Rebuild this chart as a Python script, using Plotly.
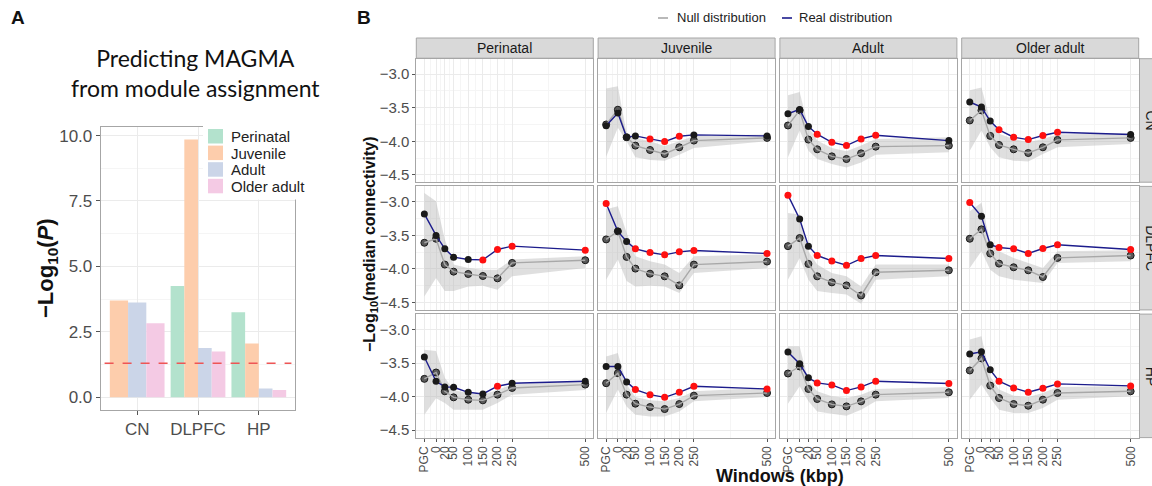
import plotly.graph_objects as go

W, H = 1152, 486

# ---------------- Panel A data ----------------
regions = ["CN", "DLPFC", "HP"]
stages = ["Perinatal", "Juvenile", "Adult", "Older adult"]
stage_colors = ["#b3e2cd", "#fdcdac", "#cbd5e8", "#f4cae4"]
magma_perinatal = [None, 4.25, 3.25]
magma_juvenile = [3.70, 9.85, 2.05]
magma_adult = [3.62, 1.88, 0.33]
magma_older = [2.83, 1.75, 0.27]
sig_line = 1.301  # -log10(0.05)
a_yticks = [0.0, 2.5, 5.0, 7.5, 10.0]

# ---------------- Panel B data ----------------
window_labels = ["PGC", "0", "20", "50", "100", "150", "200", "250", "500"]
window_kbp = [-50, -10, 20, 50, 100, 150, 200, 250, 500]
facet_rows = ["CN", "DLPFC", "HP"]
facet_cols = ["Perinatal", "Juvenile", "Adult", "Older adult"]
b_yticks = [-3.0, -3.5, -4.0, -4.5]
dist_names = ["Null distribution", "Real distribution"]

cn_juv_real = [-3.77, -3.58, -3.94, -3.92, -3.965, -4.005, -3.925, -3.905, -3.92]
cn_juv_null = [-3.75, -3.53, -3.94, -4.065, -4.13, -4.19, -4.09, -3.99, -3.95]
cn_juv_hi = [-3.215, -3.18, -3.88, -3.95, -4.0, -4.07, -4.0, -3.92, -3.9]
cn_juv_lo = [-4.23, -3.8, -4.0, -4.24, -4.28, -4.29, -4.2, -4.1, -4.0]
cn_juv_sig = [0, 0, 0, 0, 1, 1, 1, 0, 0]

cn_adu_real = [-3.59, -3.525, -3.78, -3.895, -4.015, -4.065, -3.965, -3.91, -3.99]
cn_adu_null = [-3.765, -3.54, -3.975, -4.12, -4.225, -4.265, -4.18, -4.08, -4.065]
cn_adu_hi = [-3.315, -3.265, -3.79, -3.99, -4.1, -4.15, -4.065, -3.965, -3.94]
cn_adu_lo = [-4.24, -3.84, -4.14, -4.265, -4.34, -4.39, -4.315, -4.2, -4.165]
cn_adu_sig = [0, 0, 0, 1, 1, 1, 1, 1, 0]

cn_old_real = [-3.415, -3.49, -3.70, -3.83, -3.94, -3.975, -3.915, -3.865, -3.90]
cn_old_null = [-3.69, -3.54, -3.92, -4.055, -4.12, -4.175, -4.09, -3.98, -3.95]
cn_old_hi = [-3.24, -3.2, -3.69, -3.89, -3.965, -4.015, -3.965, -3.9, -3.88]
cn_old_lo = [-4.14, -3.84, -4.09, -4.24, -4.29, -4.3, -4.19, -4.09, -4.04]
cn_old_sig = [0, 0, 0, 1, 1, 1, 1, 1, 0]

dl_per_real = [-3.18, -3.50, -3.70, -3.825, -3.86, -3.865, -3.71, -3.66, -3.72]
dl_per_null = [-3.61, -3.55, -3.935, -4.04, -4.075, -4.105, -4.14, -3.91, -3.87]
dl_per_hi = [-2.87, -2.99, -3.56, -3.935, -3.985, -4.01, -4.01, -3.86, -3.81]
dl_per_lo = [-4.41, -4.135, -4.33, -4.33, -4.26, -4.25, -4.31, -4.11, -3.985]
dl_per_sig = [0, 0, 0, 0, 0, 1, 1, 1, 1]

dl_juv_real = [-3.025, -3.44, -3.59, -3.70, -3.755, -3.79, -3.745, -3.725, -3.77]
dl_juv_null = [-3.56, -3.44, -3.82, -3.995, -4.07, -4.11, -4.245, -3.935, -3.89]
dl_juv_hi = [-3.11, -3.065, -3.46, -3.81, -3.885, -3.935, -4.06, -3.81, -3.785]
dl_juv_lo = [-4.16, -3.86, -4.18, -4.26, -4.25, -4.26, -4.36, -4.06, -3.985]
dl_juv_sig = [1, 0, 0, 1, 1, 1, 1, 1, 1]

dl_adu_real = [-2.90, -3.255, -3.66, -3.80, -3.88, -3.945, -3.845, -3.80, -3.845]
dl_adu_null = [-3.66, -3.54, -3.925, -4.11, -4.2, -4.245, -4.395, -4.05, -4.02]
dl_adu_hi = [-3.165, -3.19, -3.74, -3.935, -4.06, -4.11, -4.26, -3.935, -3.935]
dl_adu_lo = [-4.16, -3.835, -4.16, -4.33, -4.36, -4.38, -4.52, -4.16, -4.11]
dl_adu_sig = [1, 0, 0, 1, 1, 1, 1, 1, 1]

dl_old_real = [-3.01, -3.215, -3.64, -3.68, -3.70, -3.77, -3.695, -3.64, -3.71]
dl_old_null = [-3.55, -3.41, -3.77, -3.92, -3.975, -4.02, -4.12, -3.835, -3.80]
dl_old_hi = [-3.14, -3.015, -3.61, -3.735, -3.835, -3.91, -3.985, -3.735, -3.72]
dl_old_lo = [-3.985, -3.735, -4.01, -4.11, -4.16, -4.18, -4.21, -3.91, -3.885]
dl_old_sig = [1, 0, 0, 1, 1, 1, 1, 1, 1]

hp_per_real = [-3.41, -3.77, -3.855, -3.86, -3.935, -3.96, -3.845, -3.80, -3.77]
hp_per_null = [-3.735, -3.64, -3.92, -4.01, -4.045, -4.055, -3.97, -3.87, -3.82]
hp_per_hi = [-3.30, -3.32, -3.72, -3.90, -3.95, -3.97, -3.90, -3.82, -3.77]
hp_per_lo = [-4.27, -4.025, -4.095, -4.195, -4.195, -4.195, -4.095, -3.97, -3.9]
hp_per_sig = [0, 0, 0, 0, 0, 0, 1, 0, 0]

hp_juv_real = [-3.55, -3.55, -3.78, -3.895, -3.97, -4.01, -3.935, -3.845, -3.885]
hp_juv_null = [-3.80, -3.65, -3.97, -4.105, -4.155, -4.185, -4.11, -3.985, -3.945]
hp_juv_hi = [-3.40, -3.35, -3.82, -4.005, -4.055, -4.07, -4.02, -3.92, -3.87]
hp_juv_lo = [-4.24, -3.895, -4.145, -4.27, -4.295, -4.295, -4.22, -4.07, -4.005]
hp_juv_sig = [0, 0, 0, 1, 1, 1, 1, 1, 1]

hp_adu_real = [-3.335, -3.51, -3.72, -3.795, -3.825, -3.91, -3.855, -3.77, -3.805]
hp_adu_null = [-3.655, -3.55, -3.885, -4.035, -4.115, -4.145, -4.07, -3.97, -3.935]
hp_adu_hi = [-3.25, -3.25, -3.77, -3.92, -3.995, -4.02, -3.97, -3.885, -3.855]
hp_adu_lo = [-4.105, -3.845, -4.07, -4.22, -4.255, -4.285, -4.195, -4.07, -4.02]
hp_adu_sig = [0, 0, 0, 1, 1, 1, 1, 1, 1]

hp_old_real = [-3.365, -3.33, -3.60, -3.77, -3.87, -3.935, -3.875, -3.81, -3.84]
hp_old_null = [-3.61, -3.43, -3.835, -4.02, -4.11, -4.135, -4.045, -3.945, -3.92]
hp_old_hi = [-3.15, -3.10, -3.70, -3.895, -3.985, -4.005, -3.945, -3.855, -3.845]
hp_old_lo = [-4.045, -3.82, -4.02, -4.195, -4.245, -4.245, -4.17, -4.045, -3.995]
hp_old_sig = [0, 0, 0, 1, 1, 1, 1, 1, 1]

panels = {
    (0, 1): (cn_juv_real, cn_juv_null, cn_juv_hi, cn_juv_lo, cn_juv_sig),
    (0, 2): (cn_adu_real, cn_adu_null, cn_adu_hi, cn_adu_lo, cn_adu_sig),
    (0, 3): (cn_old_real, cn_old_null, cn_old_hi, cn_old_lo, cn_old_sig),
    (1, 0): (dl_per_real, dl_per_null, dl_per_hi, dl_per_lo, dl_per_sig),
    (1, 1): (dl_juv_real, dl_juv_null, dl_juv_hi, dl_juv_lo, dl_juv_sig),
    (1, 2): (dl_adu_real, dl_adu_null, dl_adu_hi, dl_adu_lo, dl_adu_sig),
    (1, 3): (dl_old_real, dl_old_null, dl_old_hi, dl_old_lo, dl_old_sig),
    (2, 0): (hp_per_real, hp_per_null, hp_per_hi, hp_per_lo, hp_per_sig),
    (2, 1): (hp_juv_real, hp_juv_null, hp_juv_hi, hp_juv_lo, hp_juv_sig),
    (2, 2): (hp_adu_real, hp_adu_null, hp_adu_hi, hp_adu_lo, hp_adu_sig),
    (2, 3): (hp_old_real, hp_old_null, hp_old_hi, hp_old_lo, hp_old_sig),
}

# ---------------- styles ----------------
FONT = "Liberation Sans, Arial, sans-serif"
TICKC = "#4d4d4d"
GRID = "#ebebeb"
MINOR = "#f5f5f5"
BORDER = "#a6a6a6"
STRIP = "#d9d9d9"
NAVY = "#1c1c8c"
NULLC = "#a8a8a8"
RIBBON = "rgba(185,185,185,0.45)"

def px_x(p):
    return p / W

def px_y(p):
    return 1 - p / H

fig = go.Figure()
layout = {}
shapes = []
annotations = []

# ---------------- Panel A ----------------
series = [magma_perinatal, magma_juvenile, magma_adult, magma_older]
for s_idx, (name, vals, col) in enumerate(zip(stages, series, stage_colors)):
    xs, ys, ws = [], [], []
    for r_idx in range(len(regions)):
        if vals[r_idx] is None:
            continue
        present = [k for k in range(len(series)) if series[k][r_idx] is not None]
        n = len(present)
        w = 0.9 / n
        k = present.index(s_idx)
        xs.append(r_idx + 1 - 0.45 + w * (k + 0.5))
        ys.append(vals[r_idx])
        ws.append(w)
    fig.add_trace(go.Bar(x=xs, y=ys, width=ws, name=name, marker=dict(color=col, line=dict(width=0)),
                         xaxis="x", yaxis="y", showlegend=False))

a_l, a_r, a_t, a_b = 100.7, 295.3, 126.7, 410.0
layout["xaxis"] = dict(domain=[px_x(a_l), px_x(a_r)], anchor="y", range=[0.4, 3.6],
                       tickvals=[1, 2, 3], ticktext=regions, showgrid=True, gridcolor=GRID,
                       zeroline=False, showline=True, mirror=True, linecolor=BORDER, linewidth=1,
                       ticks="outside", ticklen=4, tickcolor="#555",
                       tickfont=dict(family=FONT, size=17, color=TICKC))
layout["yaxis"] = dict(domain=[px_y(a_b), px_y(a_t)], anchor="x", range=[-0.49, 10.34],
                       tickvals=a_yticks, ticktext=["%.1f" % v for v in a_yticks],
                       showgrid=True, gridcolor=GRID, zeroline=False, showline=True, mirror=True,
                       linecolor=BORDER, linewidth=1, ticks="outside", ticklen=4, tickcolor="#555",
                       tickfont=dict(family=FONT, size=17, color=TICKC),
                       minor=dict(tickvals=[1.25, 3.75, 6.25, 8.75], showgrid=True, gridcolor=MINOR, ticks=""))
shapes.append(dict(type="line", xref="x domain", yref="y", x0=0.02, x1=0.98, y0=sig_line, y1=sig_line,
                   line=dict(color="#ee5555", width=1.5, dash="dash")))

# legend of panel A (drawn as a key box over the panel corner)
shapes.append(dict(type="rect", xref="paper", yref="paper", x0=px_x(203), x1=px_x(310),
                   y0=px_y(199.5), y1=px_y(121), fillcolor="white", line=dict(width=0), layer="above"))
key_top, key_step = 129.0, 16.6
for i, (name, col) in enumerate(zip(stages, stage_colors)):
    y0 = key_top + i * key_step
    shapes.append(dict(type="rect", xref="paper", yref="paper", x0=px_x(208), x1=px_x(223),
                       y0=px_y(y0 + 14.5), y1=px_y(y0), fillcolor=col, line=dict(width=0), layer="above"))
    annotations.append(dict(text=name, x=px_x(229), y=px_y(y0 + 7.5), xref="paper", yref="paper",
                            showarrow=False, xanchor="left", yanchor="middle",
                            font=dict(family=FONT, size=15, color="#222")))

annotations.append(dict(text="Predicting MAGMA<br>from module assignment", x=px_x(195), y=px_y(73),
                        xref="paper", yref="paper", showarrow=False, xanchor="center", yanchor="middle",
                        font=dict(family="Lato, Open Sans, sans-serif", size=23, color="#111"),
                        align="center"))
annotations.append(dict(text="<b>\u2212Log<sub>10</sub>(<i>P</i>)</b>", x=px_x(47), y=px_y(268),
                        xref="paper", yref="paper", showarrow=False, textangle=-90,
                        xanchor="center", yanchor="middle",
                        font=dict(family=FONT, size=22, color="#111")))
annotations.append(dict(text="<b>A</b>", x=px_x(9), y=px_y(17), xref="paper", yref="paper",
                        showarrow=False, xanchor="left", yanchor="middle",
                        font=dict(family=FONT, size=19, color="#111")))
annotations.append(dict(text="<b>B</b>", x=px_x(355), y=px_y(18), xref="paper", yref="paper",
                        showarrow=False, xanchor="left", yanchor="middle",
                        font=dict(family=FONT, size=19, color="#111")))

# ---------------- Panel B ----------------
col_left0, col_pitch, col_w = 416.3, 181.8, 177.0
row_top0, row_pitch, row_h = 58.7, 127.7, 123.5
x_minor = [(window_kbp[i] + window_kbp[i + 1]) / 2 for i in range(len(window_kbp) - 1)]
y_minor = [(b_yticks[i] + b_yticks[i + 1]) / 2 for i in range(len(b_yticks) - 1)] + [-2.75]
xr = [-50 - 0.05 * 550, 500 + 0.05 * 550]
yr = [-4.61, -2.77]

for r in range(3):
    for c in range(4):
        idx = 2 + r * 4 + c
        xa, ya = "x%d" % idx, "y%d" % idx
        L = col_left0 + c * col_pitch
        T = row_top0 + r * row_pitch
        bottom = (r == 2)
        left = (c == 0)
        layout["xaxis%d" % idx] = dict(
            domain=[px_x(L), px_x(L + col_w)], anchor=ya, range=xr,
            tickvals=window_kbp, ticktext=window_labels, tickangle=-90,
            showticklabels=bottom, ticks="outside" if bottom else "", ticklen=3, tickcolor="#555",
            tickfont=dict(family=FONT, size=12, color=TICKC),
            showgrid=True, gridcolor=GRID, zeroline=False, showline=True, mirror=True,
            linecolor=BORDER, linewidth=1,
            minor=dict(tickvals=x_minor, showgrid=True, gridcolor=MINOR, gridwidth=0.6, ticks=""))
        layout["yaxis%d" % idx] = dict(
            domain=[px_y(T + row_h), px_y(T)], anchor=xa, range=yr,
            tickvals=b_yticks, tickformat=".1f",
            showticklabels=left, ticks="outside" if left else "", ticklen=3, tickcolor="#555",
            tickfont=dict(family=FONT, size=15, color=TICKC),
            showgrid=True, gridcolor=GRID, zeroline=False, showline=True, mirror=True,
            linecolor=BORDER, linewidth=1,
            minor=dict(tickvals=y_minor, showgrid=True, gridcolor=MINOR, gridwidth=0.6, ticks=""))

        if (r, c) in panels:
            real, null, hi, lo, sig = panels[(r, c)]
            fig.add_trace(go.Scatter(x=window_kbp, y=lo, mode="lines", line=dict(width=0),
                                     xaxis=xa, yaxis=ya, showlegend=False, hoverinfo="skip"))
            fig.add_trace(go.Scatter(x=window_kbp, y=hi, mode="lines", line=dict(width=0),
                                     fill="tonexty", fillcolor=RIBBON,
                                     xaxis=xa, yaxis=ya, showlegend=False, hoverinfo="skip"))
            fig.add_trace(go.Scatter(x=window_kbp, y=null, mode="markers",
                                     marker=dict(size=7, color="#5a5a5a", line=dict(color="#1a1a1a", width=1)),
                                     xaxis=xa, yaxis=ya, showlegend=False))
            fig.add_trace(go.Scatter(x=window_kbp, y=null, mode="lines", name=dist_names[0],
                                     line=dict(color=NULLC, width=1.4),
                                     xaxis=xa, yaxis=ya, showlegend=False))
            fig.add_trace(go.Scatter(x=window_kbp, y=real, mode="lines", name=dist_names[1],
                                     line=dict(color=NAVY, width=1.4),
                                     xaxis=xa, yaxis=ya, showlegend=False))
            fig.add_trace(go.Scatter(x=window_kbp, y=real, mode="markers",
                                     marker=dict(size=7, color=["#ff1010" if s else "#1a1a1a" for s in sig],
                                                 line=dict(width=0)),
                                     xaxis=xa, yaxis=ya, showlegend=False))
        else:
            # empty facet: keep its axes drawn
            fig.add_trace(go.Scatter(x=window_kbp, y=[None] * len(window_kbp), mode="markers",
                                     xaxis=xa, yaxis=ya, showlegend=False, hoverinfo="skip"))

        # column strips
        if r == 0:
            shapes.append(dict(type="rect", xref="paper", yref="paper",
                               x0=px_x(L), x1=px_x(L + col_w), y0=px_y(58.2), y1=px_y(38),
                               fillcolor=STRIP, line=dict(color=BORDER, width=1), layer="below"))
            annotations.append(dict(text=facet_cols[c], x=px_x(L + col_w / 2), y=px_y(48.5),
                                    xref="paper", yref="paper", showarrow=False,
                                    xanchor="center", yanchor="middle",
                                    font=dict(family=FONT, size=14, color="#1a1a1a")))
        if c == 3:
            shapes.append(dict(type="rect", xref="paper", yref="paper",
                               x0=px_x(1139.5), x1=px_x(1162), y0=px_y(T + row_h), y1=px_y(T),
                               fillcolor=STRIP, line=dict(color=BORDER, width=1), layer="below"))
            annotations.append(dict(text=facet_rows[r], x=px_x(1141), y=px_y(T + row_h / 2),
                                    xref="paper", yref="paper", showarrow=False, textangle=90,
                                    xanchor="left", yanchor="middle",
                                    font=dict(family=FONT, size=14, color="#1a1a1a")))

# top legend (line keys)
leg_items = [(dist_names[0], NULLC, 658, 675), (dist_names[1], NAVY, 782, 797)]
for name, col, kx, tx in leg_items:
    shapes.append(dict(type="line", xref="paper", yref="paper", x0=px_x(kx), x1=px_x(kx + 10),
                       y0=px_y(18), y1=px_y(18), line=dict(color=col, width=1.6)))
    annotations.append(dict(text=name, x=px_x(tx), y=px_y(18), xref="paper", yref="paper",
                            showarrow=False, xanchor="left", yanchor="middle",
                            font=dict(family=FONT, size=13, color="#222")))

annotations.append(dict(text="<b>Windows (kbp)</b>", x=px_x(780), y=px_y(476), xref="paper", yref="paper",
                        showarrow=False, xanchor="center", yanchor="middle",
                        font=dict(family=FONT, size=18, color="#111")))
annotations.append(dict(text="<b>\u2212Log<sub>10</sub>(median connectivity)</b>", x=px_x(370), y=px_y(244),
                        xref="paper", yref="paper", showarrow=False, textangle=-90,
                        xanchor="center", yanchor="middle",
                        font=dict(family=FONT, size=16, color="#111")))

fig.update_layout(
    width=W, height=H, margin=dict(l=0, r=0, t=0, b=0),
    paper_bgcolor="white", plot_bgcolor="white",
    barmode="overlay", shapes=shapes, annotations=annotations, showlegend=False,
    **layout,
)

fig.write_html("out.html", config={"displayModeBar": False},
               post_script="document.body.style.margin='0px';")
